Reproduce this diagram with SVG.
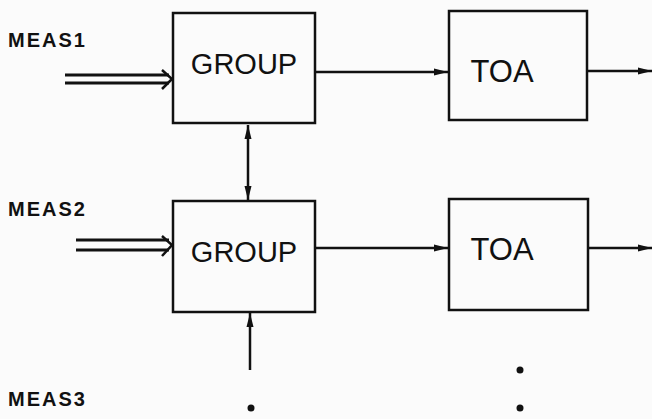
<svg xmlns="http://www.w3.org/2000/svg" width="652" height="419" viewBox="0 0 652 419">
<defs>
<marker id="ah" viewBox="0 0 14 8" refX="14" refY="4" markerWidth="14" markerHeight="8" markerUnits="userSpaceOnUse" orient="auto-start-reverse">
<path d="M0,0.5 L14,4 L0,7.5 Z" fill="#111"/>
</marker>
<style>
.box{fill:none;stroke:#111;stroke-width:2.5}
.ln{fill:none;stroke:#111;stroke-width:2.5}
.dl{fill:none;stroke:#111;stroke-width:3}
.lbl{font-family:"Liberation Sans",Arial,sans-serif;font-size:20px;font-weight:bold;fill:#111;letter-spacing:2px}
.nt{font-family:"Liberation Sans",Arial,sans-serif;font-size:29px;fill:#111;text-anchor:middle}
</style>
</defs>
<rect width="652" height="419" fill="#fbfbfb"/>
<g id="label-meas1"><text class="lbl" x="8" y="47">MEAS1</text></g>
<g id="label-meas2"><text class="lbl" x="8" y="216">MEAS2</text></g>
<g id="label-meas3"><text class="lbl" x="8" y="406">MEAS3</text></g>
<g id="group1"><rect class="box" x="173" y="13" width="142" height="110"/><text class="nt" x="244" y="74">GROUP</text></g>
<g id="toa1"><rect class="box" x="449" y="11" width="138" height="109"/><text class="nt" x="502" y="82" style="font-size:31px">TOA</text></g>
<g id="group2"><rect class="box" x="173" y="201" width="142" height="111"/><text class="nt" x="244" y="262">GROUP</text></g>
<g id="toa2"><rect class="box" x="449" y="199" width="139" height="111"/><text class="nt" x="502" y="260" style="font-size:31px">TOA</text></g>
<g id="connectors">
<line class="dl" x1="65" y1="75" x2="169" y2="75"/>
<line class="dl" x1="65" y1="83" x2="169" y2="83"/>
<polyline class="ln" points="162,70 172,79 162,89"/>
<line class="dl" x1="76" y1="240" x2="169" y2="240"/>
<line class="dl" x1="76" y1="250" x2="169" y2="250"/>
<polyline class="ln" points="162,236 172,245 162,256"/>
<line class="ln" x1="315" y1="72" x2="448" y2="72" marker-end="url(#ah)"/>
<line class="ln" x1="587" y1="71" x2="652" y2="71" marker-end="url(#ah)"/>
<line class="ln" x1="315" y1="248" x2="448" y2="248" marker-end="url(#ah)"/>
<line class="ln" x1="588" y1="248" x2="652" y2="248" marker-end="url(#ah)"/>
<line class="ln" x1="248" y1="125" x2="248" y2="200" marker-start="url(#ah)" marker-end="url(#ah)"/>
<line class="ln" x1="250" y1="370" x2="250" y2="313" marker-end="url(#ah)"/>
</g>
<g id="dots" fill="#111">
<circle cx="520" cy="370" r="3.5"/>
<circle cx="520" cy="408" r="3.5"/>
<circle cx="251" cy="408" r="3.5"/>
</g>
</svg>
